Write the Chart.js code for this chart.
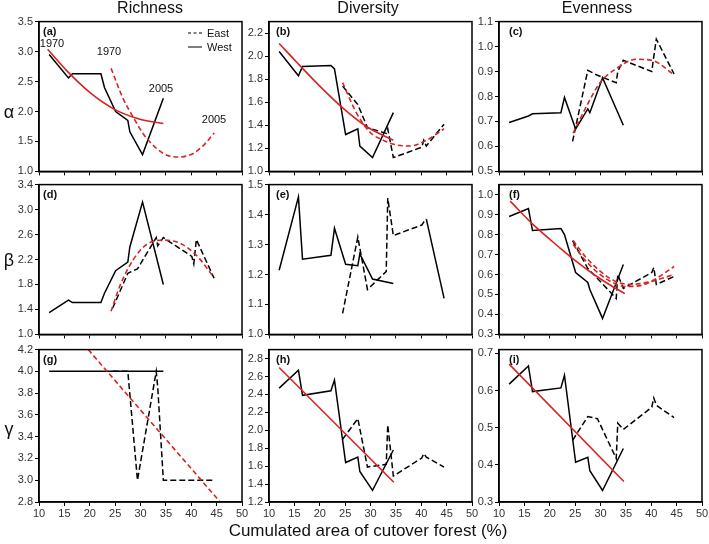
<!DOCTYPE html>
<html>
<head>
<meta charset="utf-8">
<script src="https://cdn.jsdelivr.net/npm/chart.js@4.4.0/dist/chart.umd.min.js"></script>
<style>
body{margin:0;background:#fff;width:709px;height:544px;position:relative;overflow:hidden;font-family:'Liberation Sans',Arial,sans-serif;color:#111;}
canvas{position:absolute;}
.t{position:absolute;white-space:nowrap;transform:translate(-50%,-50%);}
.l{position:absolute;white-space:nowrap;transform:translateY(-50%);}
</style>
</head>
<body>
<script>
'use strict';
// x positions (cumulated cutover %) of the yearly points, 1970 -> 2005
const westX = [12.0, 15.8, 16.6, 22.2, 22.9, 25.1, 27.5, 27.9, 30.4, 34.5];
const eastX = [24.5, 27.5, 29.4, 33.1, 33.4, 34.5, 40.1, 40.5, 41.0, 44.5];

// alpha
const aWest = [2.95, 2.56, 2.63, 2.63, 2.40, 2.00, 1.85, 1.66, 1.28, 2.22];
const aWestFit = [[11.7,3.04],[15.6,2.67],[20,2.32],[24.8,2.04],[29.9,1.87],[34.5,1.80]];
const aEastFit = [[24.2,2.72],[26.6,2.21],[28.6,1.90],[30.6,1.62],[33.2,1.38],[35.2,1.27],[37.5,1.24],[40.4,1.30],[42.7,1.46],[44.5,1.64]];
const bWest = [2.04, 1.83, 1.91, 1.92, 1.89, 1.32, 1.37, 1.22, 1.12, 1.51];
const bEast = [1.74, 1.58, 1.38, 1.33, 1.37, 1.12, 1.21, 1.27, 1.22, 1.41];
const bWestFit = [[12,2.11],[15.4,1.95],[20,1.74],[24.8,1.54],[29.2,1.39],[34.5,1.27]];
const bEastFit = [[24.5,1.77],[27.2,1.51],[29.9,1.34],[32.5,1.27],[35.1,1.23],[37.7,1.22],[41,1.27],[44.5,1.37]];
const cWest = [0.696, 0.722, 0.731, 0.735, 0.796, 0.670, 0.750, 0.735, 0.875, 0.685];
const cEast = [0.62, 0.905, 0.885, 0.855, 0.90, 0.945, 0.90, 0.96, 1.03, 0.89];
const cEastFit = [[24.6,0.653],[27.3,0.763],[29.9,0.855],[33.2,0.913],[37.1,0.949],[40.4,0.943],[44.5,0.887]];

// beta
const dWest = [1.35, 1.55, 1.51, 1.51, 1.66, 2.02, 2.16, 2.40, 3.12, 1.80];
const dEast = [1.42, 1.98, 2.05, 2.55, 2.42, 2.55, 2.25, 2.13, 2.52, 1.90];
const dEastFit = [[24.2,1.37],[26,1.79],[28.6,2.2],[31.2,2.44],[34.5,2.51],[37.8,2.46],[41.1,2.26],[44.4,1.92]];
const eWest = [1.214, 1.459, 1.251, 1.264, 1.354, 1.234, 1.229, 1.269, 1.185, 1.17];
const eEast = [1.07, 1.325, 1.15, 1.21, 1.455, 1.33, 1.365, 1.375, 1.385, 1.12];
const fWest = [0.89, 0.93, 0.82, 0.83, 0.80, 0.61, 0.56, 0.525, 0.38, 0.65];
const fEast = [0.77, 0.63, 0.58, 0.48, 0.60, 0.53, 0.61, 0.635, 0.55, 0.59];
const fWestFit = [[12.2,0.967],[16.8,0.848],[22.1,0.731],[25.1,0.668],[28.7,0.600],[31.4,0.555],[34.8,0.504]];
const fEastFit = [[24.6,0.75],[27.2,0.665],[29.9,0.60],[32.4,0.56],[35,0.54],[38,0.545],[41,0.58],[44.5,0.64]];
const fEastFit2 = [[24.6,0.77],[27,0.69],[30,0.615],[33,0.565],[36,0.55],[40,0.565],[44.5,0.60]];

// gamma
const gWest = [4, 4, 4, 4, 4, 4, 4, 4, 4, 4];
const gEast = [4.0, 4.0, 3.0, 4.0, 3.85, 3.0, 3.0, 3.0, 3.0, 3.0];
const gEastFit = [[19.7,4.2],[45.7,2.8]];
const hWest = [2.47, 2.67, 2.39, 2.44, 2.56, 1.64, 1.70, 1.54, 1.33, 1.78];
const hEast = [1.90, 2.13, 1.59, 1.62, 2.06, 1.49, 1.69, 1.74, 1.70, 1.59];
const hWestFit = [[12,2.70],[34.6,1.42]];
const iWest = [0.617, 0.666, 0.597, 0.607, 0.641, 0.407, 0.420, 0.384, 0.331, 0.444];
const iEast = [0.466, 0.530, 0.524, 0.417, 0.512, 0.495, 0.555, 0.580, 0.560, 0.527];
const iWestFit = [[12,0.671],[34.6,0.355]];

const xTicks = {min: 10, max: 50, step: 5};
const titles = ['Richness', 'Diversity', 'Evenness'];
const rowLabels = ['α', 'β', 'γ'];

const red = 'rgb(214,36,36)';
const cols = [39, 269, 499], rows = [21, 184, 349];
const plotW = 203, plotH = 153;

function pts(xs, ys) { return xs.map((x, i) => ({x: x, y: ys[i]})); }
function obs(xs, ys, dashed) {
	return {data: pts(xs, ys), borderColor: '#000', borderWidth: 1.5, borderDash: dashed ? [6, 3] : []};
}
function fit(p, dashed) {
	return {data: p.map(q => ({x: q[0], y: q[1]})), borderColor: red, borderWidth: 1.6,
		borderDash: dashed ? [5, 3] : [], cubicInterpolationMode: 'monotone'};
}

const eLast = obs(eastX, eEast, true);
eLast.segment = {borderDash: c => c.p0DataIndex === 8 ? [] : [6, 3]};

const panels = [
	{id: 'a', col: 0, row: 0, min: 1.0, max: 3.5, step: 0.5, sets: [fit(aWestFit, false), fit(aEastFit, true), obs(westX, aWest, false)]},
	{id: 'b', col: 1, row: 0, min: 1.0, max: 2.3, step: 0.2, sets: [fit(bWestFit, false), fit(bEastFit, true), obs(westX, bWest, false), obs(eastX, bEast, true)]},
	{id: 'c', col: 2, row: 0, min: 0.5, max: 1.1, step: 0.1, sets: [fit(cEastFit, true), obs(westX, cWest, false), obs(eastX, cEast, true)]},
	{id: 'd', col: 0, row: 1, min: 1.0, max: 3.4, step: 0.4, sets: [fit(dEastFit, true), obs(westX, dWest, false), obs(eastX, dEast, true)]},
	{id: 'e', col: 1, row: 1, min: 1.0, max: 1.5, step: 0.1, sets: [obs(westX, eWest, false), eLast]},
	{id: 'f', col: 2, row: 1, min: 0.3, max: 1.05, step: 0.1, sets: [fit(fWestFit, false), fit(fEastFit, true), fit(fEastFit2, true), obs(westX, fWest, false), obs(eastX, fEast, true)]},
	{id: 'g', col: 0, row: 2, min: 2.8, max: 4.2, step: 0.2, sets: [fit(gEastFit, true), obs(westX, gWest, false), obs(eastX, gEast, true)]},
	{id: 'h', col: 1, row: 2, min: 1.2, max: 2.9, step: 0.2, sets: [fit(hWestFit, false), obs(westX, hWest, false), obs(eastX, hEast, true)]},
	{id: 'i', col: 2, row: 2, min: 0.3, max: 0.71, step: 0.1, sets: [fit(iWestFit, false), obs(westX, iWest, false), obs(eastX, iEast, true)]}
];

const frame = {
	id: 'frame',
	afterDatasetsDraw: (chart) => {
		const a = chart.chartArea, ctx = chart.ctx;
		ctx.save();
		ctx.strokeStyle = '#000';
		ctx.lineWidth = 1.5;
		ctx.strokeRect(a.left, a.top, a.right - a.left, a.bottom - a.top);
		ctx.restore();
	}
};

function text(cls, s, x, y, css) {
	const d = document.createElement('div');
	d.className = cls;
	d.textContent = s;
	d.style.left = x + 'px';
	d.style.top = y + 'px';
	d.style.cssText += css || '';
	document.body.appendChild(d);
	return d;
}

function makePanel(p) {
	const last = p.row === 2;
	const xH = last ? 20 : 6;
	const w = 36 + plotW + 12, h = 8 + plotH + xH;
	const cv = document.createElement('canvas');
	cv.width = w; cv.height = h;
	cv.style.left = (cols[p.col] - 36) + 'px';
	cv.style.top = (rows[p.row] - 8) + 'px';
	cv.style.width = w + 'px'; cv.style.height = h + 'px';
	document.body.appendChild(cv);
	const step = p.step;
	new Chart(cv, {
		type: 'line',
		data: {datasets: p.sets},
		options: {
			responsive: false, animation: false, devicePixelRatio: 1,
			layout: {padding: {top: 8, right: 12, left: 0, bottom: 0}},
			plugins: {legend: {display: false}, tooltip: {enabled: false}},
			elements: {point: {radius: 0}, line: {tension: 0}},
			scales: {
				x: {
					type: 'linear', min: xTicks.min, max: xTicks.max,
					afterFit: s => { s.height = xH; },
					ticks: {display: last, stepSize: xTicks.step, color: '#333', font: {size: 11, family: "'Liberation Sans', Arial"}, padding: 1, maxRotation: 0, autoSkip: false},
					grid: {drawOnChartArea: false, drawTicks: true, tickLength: 4, color: '#000', lineWidth: 1},
					border: {color: '#000', width: 1.5}
				},
				y: {
					type: 'linear', min: p.min, max: p.max,
					afterFit: s => { s.width = 36; },
					afterBuildTicks: s => {
						const t = [];
						for (let k = 0; p.min + k * step <= p.max + 1e-9; k++) t.push({value: +(p.min + k * step).toFixed(4)});
						s.ticks = t;
					},
					ticks: {stepSize: step, color: '#333', font: {size: 11, family: "'Liberation Sans', Arial"}, padding: 2, autoSkip: false, callback: v => v.toFixed(1)},
					grid: {drawOnChartArea: false, drawTicks: true, tickLength: 4, color: '#000', lineWidth: 1},
					border: {color: '#000', width: 1.5}
				}
			}
		},
		plugins: [frame]
	});
	text('l', '(' + p.id + ')', cols[p.col] + (p.col === 0 ? 4 : p.col === 1 ? 7 : 10), rows[p.row] + 10, 'font-size:11px;font-weight:bold;');
}

panels.forEach(makePanel);

[150, 368, 597].forEach((x, i) => text('t', titles[i], x, 8, 'font-size:16px;'));
[112, 260, 429].forEach((y, i) => text('t', rowLabels[i], 9, y, 'font-size:18px;'));
text('t', 'Cumulated area of cutover forest (%)', 368, 531, 'font-size:17px;');

// legend in panel (a)
text('l', 'East', 207, 33, 'font-size:11px;');
text('l', 'West', 207, 47, 'font-size:11px;');
text('l', '', 188, 33, 'width:14px;height:0;border-top:1.5px dashed #000;');
text('l', '', 188, 47, 'width:14px;height:0;border-top:1.5px solid #000;');

// year annotations
text('t', '1970', 52, 43, 'font-size:11px;');
text('t', '1970', 109, 51, 'font-size:11px;');
text('t', '2005', 161, 88, 'font-size:11px;');
text('t', '2005', 214, 119, 'font-size:11px;');
</script>
</body>
</html>
